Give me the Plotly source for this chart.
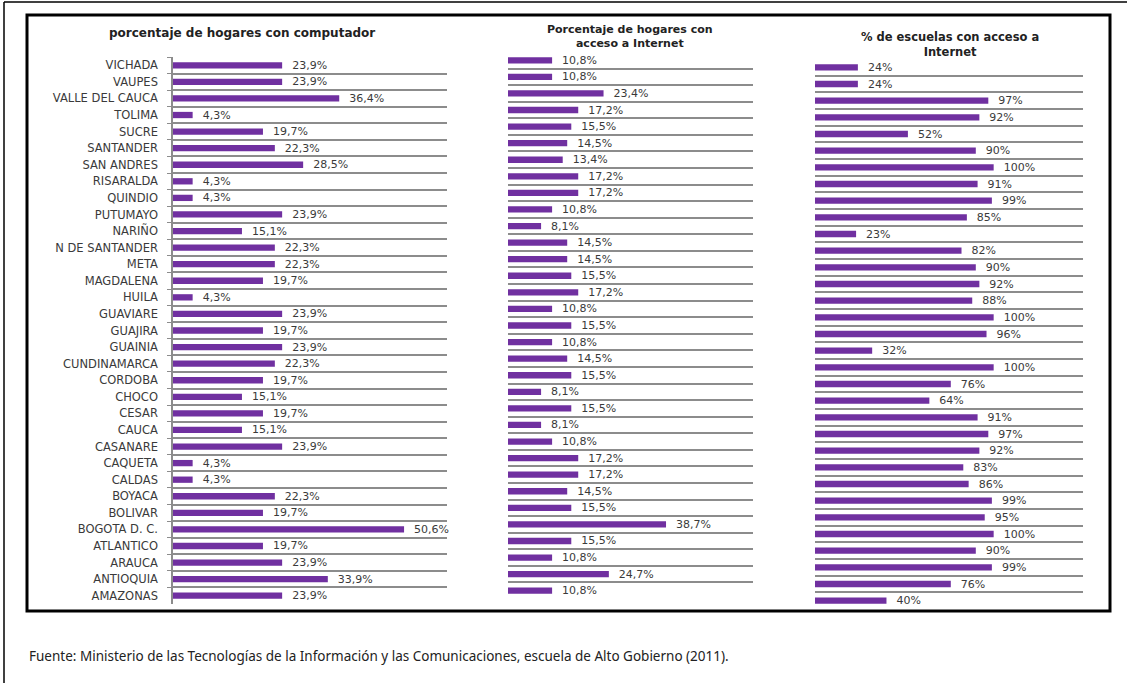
import plotly.graph_objects as go

W, H = 1127, 683

deptos = ["VICHADA", "VAUPES", "VALLE DEL CAUCA", "TOLIMA", "SUCRE", "SANTANDER",
          "SAN ANDRES", "RISARALDA", "QUINDIO", "PUTUMAYO", "NARIÑO", "N DE SANTANDER",
          "META", "MAGDALENA", "HUILA", "GUAVIARE", "GUAJIRA", "GUAINIA", "CUNDINAMARCA",
          "CORDOBA", "CHOCO", "CESAR", "CAUCA", "CASANARE", "CAQUETA", "CALDAS", "BOYACA",
          "BOLIVAR", "BOGOTA D. C.", "ATLANTICO", "ARAUCA", "ANTIOQUIA", "AMAZONAS"]

computador = [23.9, 23.9, 36.4, 4.3, 19.7, 22.3, 28.5, 4.3, 4.3, 23.9, 15.1, 22.3, 22.3,
              19.7, 4.3, 23.9, 19.7, 23.9, 22.3, 19.7, 15.1, 19.7, 15.1, 23.9, 4.3, 4.3,
              22.3, 19.7, 50.6, 19.7, 23.9, 33.9, 23.9]

internet = [10.8, 10.8, 23.4, 17.2, 15.5, 14.5, 13.4, 17.2, 17.2, 10.8, 8.1, 14.5, 14.5,
            15.5, 17.2, 10.8, 15.5, 10.8, 14.5, 15.5, 8.1, 15.5, 8.1, 10.8, 17.2, 17.2,
            14.5, 15.5, 38.7, 15.5, 10.8, 24.7, 10.8]

escuelas = [24, 24, 97, 92, 52, 90, 100, 91, 99, 85, 23, 82, 90, 92, 88, 100, 96, 32,
            100, 76, 64, 91, 97, 92, 83, 86, 99, 95, 100, 90, 99, 76, 40]

titulos = ["porcentaje de hogares con computador",
           "Porcentaje de hogares con<br>acceso a Internet",
           "% de escuelas con acceso a<br>Internet"]

fuente = ("Fuente: Ministerio de las Tecnologías de la Información y las Comunicaciones, "
          "escuela de Alto Gobierno (2011).")

PURPLE = "#7030A0"
GRID = "#8c8c8c"
TXT = "#3a3a3a"
FONT = "DejaVu Sans"


def px(x):
    return x / W


def py(y):
    return 1 - y / H


def fmt_dec(v):
    return "  " + f"{v:.1f}".replace(".", ",") + "%"


# pixel boxes of each plot area (left, right, top, bottom)
boxes = [(173, 447, 57, 604), (508, 753, 52, 599), (815, 1083, 59, 609)]
series = [computador, internet, escuelas]
labels = [[fmt_dec(v) for v in computador],
          [fmt_dec(v) for v in internet],
          ["  " + f"{v:d}%" for v in escuelas]]
ranges = [[0, 60], [0, 60], [0, 150]]

fig = go.Figure()

for i, (vals, txt) in enumerate(zip(series, labels)):
    n = i + 1
    fig.add_trace(go.Bar(
        x=vals, y=deptos, orientation="h",
        xaxis=f"x{n}" if n > 1 else "x", yaxis=f"y{n}" if n > 1 else "y",
        marker=dict(color=PURPLE, line=dict(width=0)),
        width=0.38,
        text=txt, textposition="outside", cliponaxis=False, constraintext="none",
        textfont=dict(family=FONT, size=11, color=TXT),
        showlegend=False, hoverinfo="skip",
    ))

layout = dict(
    width=W, height=H,
    margin=dict(l=0, r=0, t=0, b=0),
    paper_bgcolor="white", plot_bgcolor="white",
    font=dict(family=FONT, color=TXT),
    bargap=0.6,
)

for i, (l, r, t, b) in enumerate(boxes):
    n = i + 1
    xa = "xaxis" if n == 1 else f"xaxis{n}"
    ya = "yaxis" if n == 1 else f"yaxis{n}"
    layout[xa] = dict(domain=[px(l), px(r)], range=ranges[i], anchor="y" if n == 1 else f"y{n}",
                      showgrid=False, zeroline=False, showticklabels=False, showline=False,
                      fixedrange=True)
    layout[ya] = dict(domain=[py(b), py(t)], anchor="x" if n == 1 else f"x{n}",
                      type="category", autorange="reversed",
                      tickson="boundaries", showgrid=True, gridcolor=GRID, gridwidth=1.5,
                      showline=(n == 1), linecolor=GRID, linewidth=1.5,
                      ticks="outside" if n == 1 else "", ticklen=4, tickcolor=GRID,
                      showticklabels=(n == 1), ticklabelstandoff=11,
                      tickfont=dict(family=FONT, size=11.5, color=TXT),
                      fixedrange=True)

fig.update_layout(**layout)

# panel titles
title_pos = [(242, 33), (630, 36), (950, 44)]
title_size = [12, 11, 11.5]
for (cx, cy), t, s in zip(title_pos, titulos, title_size):
    fig.add_annotation(x=px(cx), y=py(cy), xref="paper", yref="paper", text=f"<b>{t}</b>",
                       showarrow=False, xanchor="center", yanchor="middle",
                       font=dict(family=FONT, size=s, color="#222222"))

# source note
fig.add_annotation(x=px(27), y=py(656), xref="paper", yref="paper", text=fuente,
                   showarrow=False, xanchor="left", yanchor="middle",
                   font=dict(family="Noto Sans", size=13.5, color="#222222"))

# frames
fig.add_shape(type="rect", xref="paper", yref="paper",
              x0=px(27), x1=px(1110), y0=py(611), y1=py(15),
              line=dict(color="black", width=3), fillcolor="rgba(0,0,0,0)")
fig.add_shape(type="line", xref="paper", yref="paper",
              x0=px(4), x1=1, y0=py(2), y1=py(2), line=dict(color="black", width=1.5))
fig.add_shape(type="line", xref="paper", yref="paper",
              x0=px(4), x1=px(4), y0=py(2), y1=0, line=dict(color="black", width=1.5))

# page has a default body margin; remove it so the figure sits at the window origin
fig.write_html("out.html", config={"displayModeBar": False},
               post_script="document.body.style.margin='0';")
